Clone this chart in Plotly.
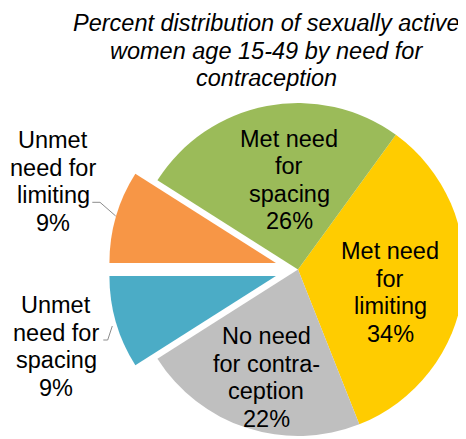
import math
import plotly.graph_objects as go

# ---------------- data ----------------
labels = ["Met need for limiting", "No need for contraception",
          "Unmet need for spacing", "Unmet need for limiting",
          "Met need for spacing"]
values = [34, 22, 9, 9, 26]
label_lines = [["Met need", "for", "limiting"],
               ["No need", "for contra-", "ception"],
               ["Unmet", "need for", "spacing"],
               ["Unmet", "need for", "limiting"],
               ["Met need", "for", "spacing"]]
exploded = [False, False, True, True, False]
title_lines = ["Percent distribution of sexually active",
               "women age 15-49 by need for",
               "contraception"]

# ---------------- style / layout ----------------
W, H = 466, 439
OFF = 8           # page body margin: figure is drawn 8px right/down in the window
colors = ["#FFCC00", "#BFBFBF", "#4BACC6", "#F79646", "#9BBB59"]
FONT = "Liberation Sans, Arial, sans-serif"
FS = 23.5
LINE = 27.5
ROT = 36          # first slice starts 36 deg clockwise from 12 o'clock
CX, CY, R = 298, 269.5, 166.5   # pie centre / radius in window px
PULL_PX = 23
# label block centres (window px)
label_pos = [(390, 292.6), (266, 377.6), (56, 346.6), (53, 181.3), (289, 180)]
title_pos = (266, 50.8)
leaders = {2: [(103.3, 340), (107.7, 340), (112.3, 326)],
           3: [(92.3, 202.3), (100, 202.3), (115.7, 216)]}

def px_x(x):
    return (x - OFF) / W

def px_y(y):
    return 1 - (y - OFF) / H

def domain_for(cx, cy, r):
    cx -= OFF
    cy -= OFF
    r = min(r, cx, W - cx, cy, H - cy)
    return dict(x=[(cx - r) / W, (cx + r) / W], y=[1 - (cy + r) / H, 1 - (cy - r) / H])

fig = go.Figure()

# main pie (exploded slices transparent)
main_colors = ["rgba(0,0,0,0)" if e else c for c, e in zip(colors, exploded)]
fig.add_trace(go.Pie(labels=labels, values=values, sort=False, direction="clockwise",
                     rotation=ROT, marker=dict(colors=main_colors, line=dict(width=0)),
                     textinfo="none", hoverinfo="label+percent", showlegend=False,
                     domain=domain_for(CX, CY, R)))

# exploded slices, each drawn as its own pie shifted along the slice bisector
total = sum(values)
cum = 0
for i, v in enumerate(values):
    mid = ROT + 360 * (cum + v / 2) / total
    cum += v
    if not exploded[i]:
        continue
    a = math.radians(mid)
    cx = CX + PULL_PX * math.sin(a)
    cy = CY - PULL_PX * math.cos(a)
    cols = [c if j == i else "rgba(0,0,0,0)" for j, c in enumerate(colors)]
    fig.add_trace(go.Pie(labels=labels, values=values, sort=False, direction="clockwise",
                         rotation=ROT, marker=dict(colors=cols, line=dict(width=0)),
                         textinfo="none", hoverinfo="skip", showlegend=False,
                         domain=domain_for(cx, cy, R)))

annotations = []
def add_block(lines, cx, cy, italic=False):
    n = len(lines)
    for k, t in enumerate(lines):
        y = cy + (k - (n - 1) / 2) * LINE
        annotations.append(dict(text=t, x=px_x(cx), y=px_y(y), xref="paper", yref="paper",
                                xanchor="center", yanchor="middle", showarrow=False,
                                font=dict(family=FONT, size=FS, color="#000000",
                                          style="italic" if italic else "normal")))

for i, (lines, v) in enumerate(zip(label_lines, values)):
    add_block(lines + [f"{v}%"], *label_pos[i])
add_block(title_lines, *title_pos, italic=True)

shapes = []
for i, pts in leaders.items():
    path = "M " + " L ".join(f"{px_x(x)},{px_y(y)}" for x, y in pts)
    shapes.append(dict(type="path", path=path, xref="paper", yref="paper",
                       line=dict(color="#8C8C8C", width=1)))

fig.update_layout(width=W, height=H, margin=dict(l=0, r=0, t=0, b=0),
                  paper_bgcolor="white", plot_bgcolor="white",
                  annotations=annotations, shapes=shapes, showlegend=False)

fig.write_html("out.html")
